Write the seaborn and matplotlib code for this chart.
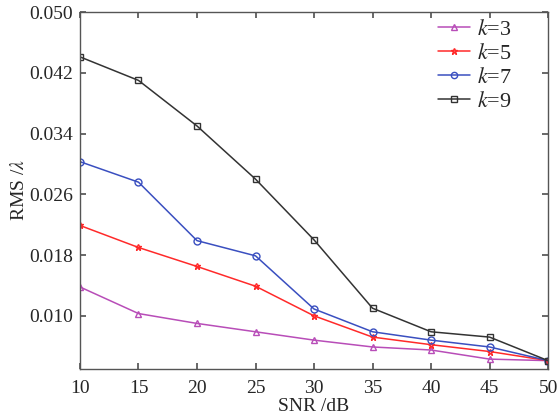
import numpy as np
import pandas as pd
import matplotlib
matplotlib.use('Agg')
import matplotlib.pyplot as plt
from matplotlib.lines import Line2D
import seaborn as sns

snr = [10, 15, 20, 25, 30, 35, 40, 45, 50]
rms_k3 = [0.0138, 0.0103, 0.0090, 0.0079, 0.0068, 0.0059, 0.0055, 0.0043, 0.0041]
rms_k5 = [0.0219, 0.0190, 0.0165, 0.0139, 0.0100, 0.0072, 0.0062, 0.0053, 0.0041]
rms_k7 = [0.0303, 0.0276, 0.0199, 0.0179, 0.0109, 0.0079, 0.0068, 0.0059, 0.0041]
rms_k9 = [0.0441, 0.0410, 0.0350, 0.0280, 0.0200, 0.0110, 0.0079, 0.0072, 0.0041]
labels = ['$k$=3', '$k$=5', '$k$=7', '$k$=9']
y_ticks = [0.010, 0.018, 0.026, 0.034, 0.042, 0.050]

sns.set_theme(style='ticks')
plt.rcParams['font.family'] = ['Liberation Serif', 'DejaVu Serif']
plt.rcParams['mathtext.fontset'] = 'stix'

# Сборка данных в длинный формат
df = pd.concat([
    pd.DataFrame({'SNR': snr, 'RMS': vals, 'k': lab})
    for vals, lab in zip([rms_k3, rms_k5, rms_k7, rms_k9], labels)
])

colors = ['#b84db8', '#ff2a2a', '#3a4fc0', '#333333']
markers = ['^', '*', 'o', 's']

fig = plt.figure(figsize=(5.57, 4.16), dpi=100)
ax = fig.add_axes([0.1436, 0.113, 0.8404, 0.858])

sns.lineplot(data=df, x='SNR', y='RMS', hue='k', style='k',
             palette=colors, markers=markers, dashes=False,
             markersize=5, markeredgewidth=1.0,
             linewidth=1.1, legend=False, ax=ax)

# маркеры без заливки
for line, c in zip(ax.get_lines(), colors):
    line.set_markerfacecolor('none')
    line.set_markeredgecolor(c)

ax.set_xlim(10, 50)
ax.set_ylim(0.003, 0.050)
ax.set_xticks(snr)
ax.set_yticks(y_ticks)
ax.set_yticklabels([f'{v:.3f}' for v in y_ticks])
ax.tick_params(direction='in', top=True, right=True, labelsize=14,
               length=4, color='#555555', pad=5)
ax.tick_params(axis='x', pad=8)
for s in ax.spines.values():
    s.set_color('#555555')
    s.set_linewidth(1.0)

ax.set_xlabel('SNR /dB', fontsize=14, labelpad=1)
ax.set_ylabel('RMS /$\\lambda$', fontsize=14, labelpad=1)

handles = [Line2D([], [], color=c, marker=m, markersize=4.5,
                  markerfacecolor='none', markeredgecolor=c, linewidth=1.1)
           for c, m in zip(colors, markers)]
ax.legend(handles, labels, loc='upper right', frameon=False, fontsize=16,
          handlelength=1.45, handletextpad=0.3, labelspacing=0.15,
          bbox_to_anchor=(0.965, 1.035))

fig.savefig('out.png', dpi=100)
